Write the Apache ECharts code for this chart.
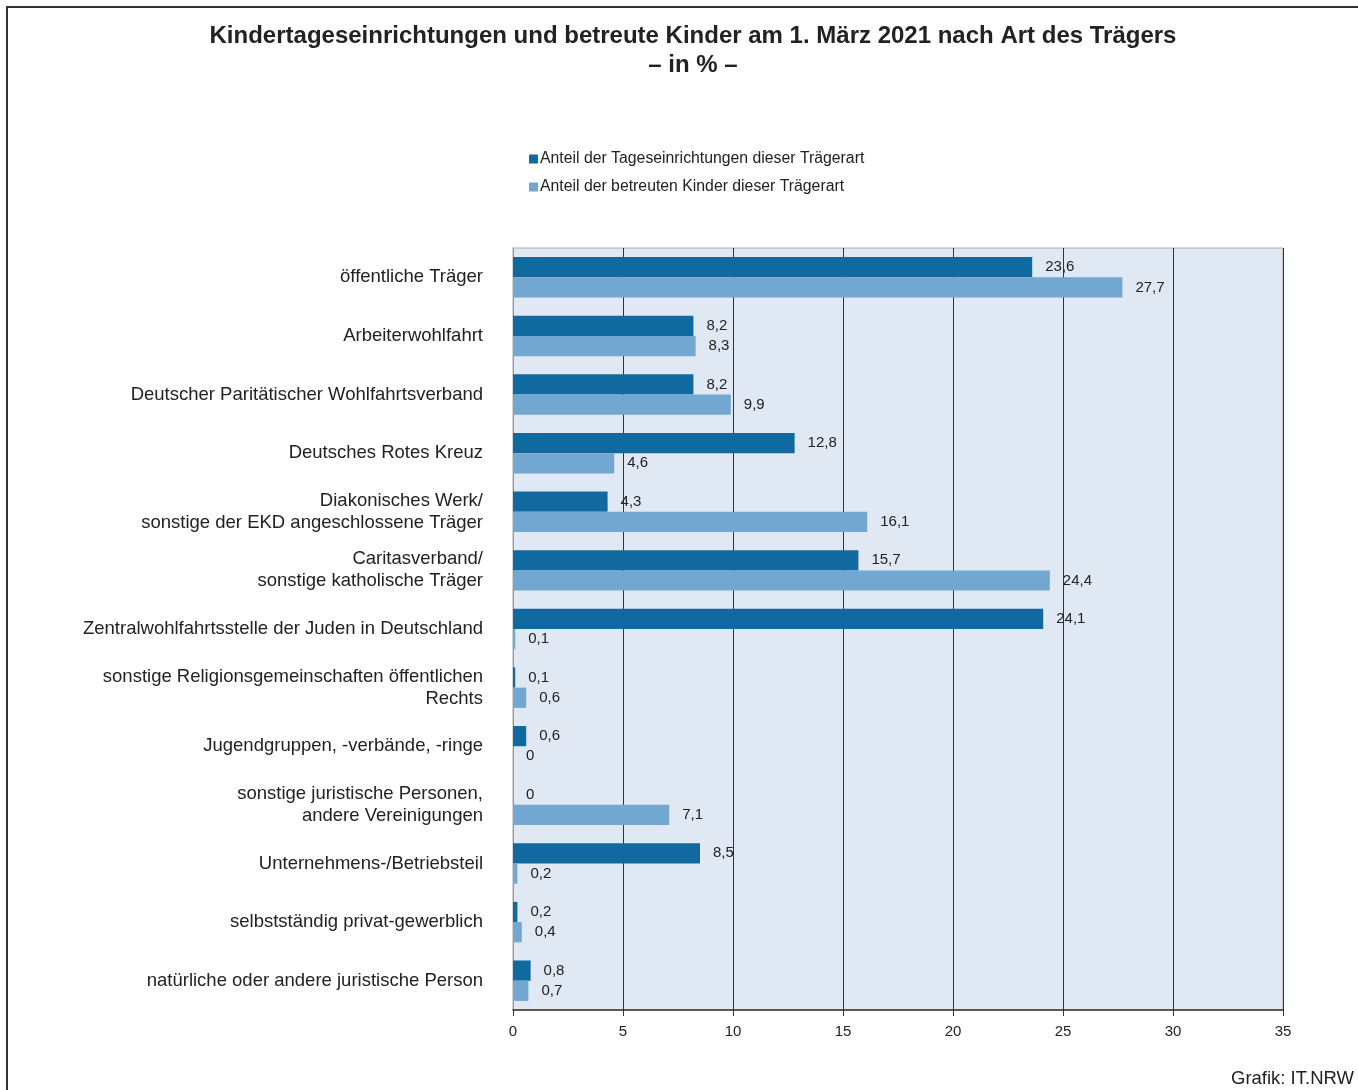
<!DOCTYPE html>
<html><head><meta charset="utf-8">
<script src="https://cdn.jsdelivr.net/npm/echarts@6/dist/echarts.min.js"></script>
<style>html,body{margin:0;padding:0;background:#fff}#c{width:1358px;height:1090px}</style>
</head><body><div id="c"></div>
<script>
const categories = [
  "öffentliche Träger",
  "Arbeiterwohlfahrt",
  "Deutscher Paritätischer Wohlfahrtsverband",
  "Deutsches Rotes Kreuz",
  "Diakonisches Werk/\nsonstige der EKD angeschlossene Träger",
  "Caritasverband/\nsonstige katholische Träger",
  "Zentralwohlfahrtsstelle der Juden in Deutschland",
  "sonstige Religionsgemeinschaften öffentlichen\nRechts",
  "Jugendgruppen, -verbände, -ringe",
  "sonstige juristische Personen,\nandere Vereinigungen",
  "Unternehmens-/Betriebsteil",
  "selbstständig privat-gewerblich",
  "natürliche oder andere juristische Person"
];
const einrichtungen = [23.6, 8.2, 8.2, 12.8, 4.3, 15.7, 24.1, 0.1, 0.6, 0, 8.5, 0.2, 0.8];
const kinder = [27.7, 8.3, 9.9, 4.6, 16.1, 24.4, 0.1, 0.6, 0, 7.1, 0.2, 0.4, 0.7];
const seriesNames = ["Anteil der Tageseinrichtungen dieser Trägerart", "Anteil der betreuten Kinder dieser Trägerart"];
const xTicks = [0, 5, 10, 15, 20, 25, 30, 35];

const font = "'Liberation Sans', Arial, sans-serif";
const fmt = v => String(v).replace('.', ',');
const chart = echarts.init(document.getElementById('c'), null, {renderer: 'canvas'});
const lbl = {show: true, position: 'right', distance: 13, color: '#222', fontSize: 15, fontFamily: font,
  formatter: p => fmt(p.value)};
chart.setOption({
  animation: false,
  backgroundColor: '#fff',
  textStyle: {fontFamily: font},
  title: {
    text: 'Kindertageseinrichtungen und betreute Kinder am 1. März 2021 nach Art des Trägers\n– in % –',
    left: 688, top: 17, textAlign: 'center',
    textStyle: {fontSize: 24, fontWeight: 'bold', color: '#222', lineHeight: 29, fontFamily: font}
  },
  legend: {
    orient: 'vertical', left: 524, top: 146, itemGap: 12,
    itemWidth: 9, itemHeight: 9, icon: 'rect',
    textStyle: {fontSize: 15.8, color: '#222', fontFamily: font, padding: [0, 0, 0, -3]},
    data: seriesNames
  },
  grid: {left: 513, right: 75, top: 248, bottom: 80, show: true, backgroundColor: '#dfe8f3', borderColor: '#a8a8a8', borderWidth: 1},
  xAxis: {
    type: 'value', min: xTicks[0], max: xTicks[xTicks.length - 1], interval: 5,
    axisLine: {show: true, lineStyle: {color: '#333', width: 1.5}},
    axisTick: {show: true, length: 6, lineStyle: {color: '#333'}},
    axisLabel: {color: '#222', fontSize: 15, margin: 14, fontFamily: font},
    splitLine: {show: true, lineStyle: {color: '#333', width: 1}}
  },
  yAxis: {
    type: 'category', data: categories, inverse: true,
    axisLine: {show: true, lineStyle: {color: '#999'}},
    axisTick: {show: false},
    axisLabel: {color: '#222', fontSize: 18.5, lineHeight: 22, margin: 30, fontFamily: font, align: 'right', padding: [0, 0, 6, 0]}
  },
  series: [
    {name: seriesNames[0], type: 'bar', data: einrichtungen, barGap: '0%', barCategoryGap: '31%',
      itemStyle: {color: '#106aa0'}, label: lbl},
    {name: seriesNames[1], type: 'bar', data: kinder, barGap: '0%', barCategoryGap: '31%',
      itemStyle: {color: '#71a7d0'}, label: lbl}
  ],
  graphic: [
    {type: 'rect', shape: {x: 7, y: 7, width: 1400, height: 1200}, style: {fill: 'none', stroke: '#333', lineWidth: 2}, silent: true},
    {type: 'text', right: 4, top: 1069, style: {text: 'Grafik: IT.NRW', fontSize: 18.5, fill: '#222', fontFamily: font}}
  ]
});
</script></body></html>
